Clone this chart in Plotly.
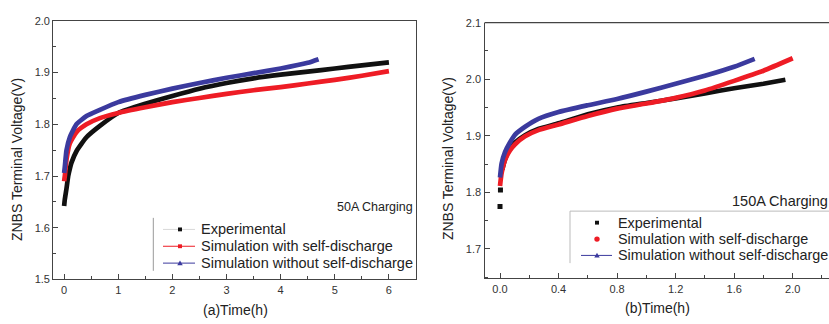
import plotly.graph_objects as go

W, H = 829, 324
FONT = "Arial, Liberation Sans, sans-serif"

# ---- 50 A charging ----
t_50_exp = [0.0, 0.013, 0.044, 0.075, 0.105, 0.136, 0.228, 0.413, 0.66, 1.0, 1.5, 2.0, 2.5, 3.0, 3.5, 4.0, 4.5, 5.0, 5.5, 6.0]
v_50_exp = [1.642, 1.655, 1.676, 1.700, 1.714, 1.726, 1.748, 1.775, 1.797, 1.822, 1.840, 1.855, 1.869, 1.880, 1.889, 1.896, 1.902, 1.908, 1.914, 1.920]

t_50_sd = [0.0, 0.013, 0.044, 0.105, 0.228, 0.413, 0.66, 1.0, 1.5, 2.0, 2.5, 3.0, 3.5, 4.0, 4.5, 5.0, 5.5, 6.0]
v_50_sd = [1.690, 1.700, 1.732, 1.763, 1.785, 1.800, 1.812, 1.822, 1.833, 1.843, 1.851, 1.859, 1.866, 1.872, 1.879, 1.886, 1.894, 1.903]

t_50_nosd = [0.0, 0.013, 0.044, 0.105, 0.228, 0.413, 0.66, 1.0, 1.5, 2.0, 2.5, 3.0, 3.5, 4.0, 4.5, 4.7]
v_50_nosd = [1.706, 1.718, 1.750, 1.775, 1.800, 1.816, 1.828, 1.843, 1.857, 1.869, 1.880, 1.890, 1.899, 1.908, 1.919, 1.926]

# ---- 150 A charging ----
t_150_exp_first = [0.0, 0.003]
v_150_exp_first = [1.775, 1.804]
t_150_exp = [0.015, 0.034, 0.068, 0.103, 0.171, 0.262, 0.4, 0.6, 0.8, 1.0, 1.2, 1.4, 1.6, 1.8, 1.95]
v_150_exp = [1.840, 1.858, 1.878, 1.888, 1.901, 1.912, 1.922, 1.938, 1.950, 1.958, 1.966, 1.975, 1.984, 1.992, 1.999]

t_150_sd = [0.0, 0.011, 0.034, 0.068, 0.103, 0.171, 0.262, 0.4, 0.6, 0.8, 1.0, 1.2, 1.4, 1.6, 1.8, 2.0]
v_150_sd = [1.811, 1.834, 1.857, 1.874, 1.885, 1.899, 1.910, 1.920, 1.935, 1.948, 1.957, 1.967, 1.980, 1.997, 2.015, 2.037]

t_150_nosd = [0.0, 0.011, 0.034, 0.068, 0.103, 0.171, 0.262, 0.4, 0.6, 0.8, 1.0, 1.2, 1.4, 1.6, 1.74]
v_150_nosd = [1.826, 1.851, 1.871, 1.888, 1.902, 1.916, 1.930, 1.942, 1.954, 1.965, 1.978, 1.992, 2.006, 2.022, 2.036]

names = ["Experimental", "Simulation with self-discharge", "Simulation without self-discharge"]
colors = ["#111111", "#ee1c25", "#3b3a9e"]

x_ticks_a = [0, 1, 2, 3, 4, 5, 6]
y_ticks_a = [1.5, 1.6, 1.7, 1.8, 1.9, 2.0]
x_ticks_b = [0.0, 0.4, 0.8, 1.2, 1.6, 2.0]
y_ticks_b = [1.7, 1.8, 1.9, 2.0, 2.1]


def px(x):
    return x / W


def py(y):
    return 1 - y / H


fig = go.Figure()

series_a = [(t_50_exp, v_50_exp), (t_50_sd, v_50_sd), (t_50_nosd, v_50_nosd)]
series_b = [(t_150_exp, v_150_exp), (t_150_sd, v_150_sd), (t_150_nosd, v_150_nosd)]

line_style = dict(width=4.7, shape="spline", smoothing=0.5)
for (t, v), c in zip(series_a, colors):
    fig.add_trace(go.Scatter(x=t, y=v, mode="lines", line=dict(color=c, **line_style),
                             xaxis="x", yaxis="y", showlegend=False))
fig.add_trace(go.Scatter(x=t_150_exp_first, y=v_150_exp_first, mode="markers",
                         marker=dict(symbol="square", size=5, color=colors[0]),
                         xaxis="x2", yaxis="y2", showlegend=False))
for (t, v), c in zip(series_b, colors):
    fig.add_trace(go.Scatter(x=t, y=v, mode="lines", line=dict(color=c, **line_style),
                             xaxis="x2", yaxis="y2", showlegend=False))

axis_common = dict(showline=True, linecolor="#444444", linewidth=1.3, ticks="inside", ticklen=5,
                   tickcolor="#444444", tickwidth=1, showgrid=False, zeroline=False,
                   tickfont=dict(family=FONT, size=11, color="#333333"))

fig.update_layout(
    width=W, height=H, margin=dict(l=0, r=0, t=0, b=0),
    paper_bgcolor="white", plot_bgcolor="white", showlegend=False,
    font=dict(family=FONT, color="#222222"),
    xaxis=dict(domain=[px(53.3), px(416)], range=[-0.2, 6.5], tickvals=x_ticks_a,
               ticktext=[str(v) for v in x_ticks_a], mirror=True,
               minor=dict(ticks="inside", ticklen=3, dtick=0.5, tick0=0, tickcolor="#444444"),
               anchor="y", **axis_common),
    yaxis=dict(domain=[py(284), py(15.5)], range=[1.5, 2.0], tickvals=y_ticks_a,
               ticktext=[f"{v:.1f}" for v in y_ticks_a], mirror=True,
               minor=dict(ticks="inside", ticklen=3, dtick=0.05, tick0=1.5, tickcolor="#444444"),
               anchor="x", **axis_common),
    xaxis2=dict(domain=[px(484.5), 1.0], range=[-0.106, 2.248], tickvals=x_ticks_b,
                ticktext=[f"{v:.1f}" for v in x_ticks_b],
                minor=dict(ticks="inside", ticklen=3, dtick=0.2, tick0=0, tickcolor="#444444"),
                anchor="y2", **axis_common),
    yaxis2=dict(domain=[py(282.7), py(17.3)], range=[1.648, 2.1], tickvals=y_ticks_b,
                ticktext=[f"{v:.1f}" for v in y_ticks_b],
                minor=dict(ticks="inside", ticklen=3, dtick=0.05, tick0=1.7, tickcolor="#444444"),
                anchor="x2", **axis_common),
)

# top frame line of panel (b)
fig.add_shape(type="line", xref="x2 domain", yref="y2 domain", x0=0, x1=1, y0=1, y1=1,
              line=dict(color="#444444", width=1.3))


def pline(x0, y0, x1, y1, color, width=1):
    fig.add_shape(type="line", xref="paper", yref="paper", x0=px(x0), y0=py(y0), x1=px(x1), y1=py(y1),
                  line=dict(color=color, width=width))


def square(cx, cy, s, color):
    fig.add_shape(type="rect", xref="paper", yref="paper", x0=px(cx - s / 2), x1=px(cx + s / 2),
                  y0=py(cy + s / 2), y1=py(cy - s / 2), fillcolor=color, line=dict(width=0))


def circle(cx, cy, r, color):
    fig.add_shape(type="circle", xref="paper", yref="paper", x0=px(cx - r), x1=px(cx + r),
                  y0=py(cy + r), y1=py(cy - r), fillcolor=color, line=dict(width=0))


def triangle(cx, cy, s, color):
    path = (f"M {px(cx - s / 2)} {py(cy + s / 2.4)} L {px(cx + s / 2)} {py(cy + s / 2.4)} "
            f"L {px(cx)} {py(cy - s / 2)} Z")
    fig.add_shape(type="path", xref="paper", yref="paper", path=path, fillcolor=color, line=dict(width=0))


def label(text, x, y, size, anchor="left", angle=0, color="#222222"):
    fig.add_annotation(text=text, x=px(x), y=py(y), xref="paper", yref="paper",
                       xanchor=anchor, yanchor="middle", textangle=angle, showarrow=False,
                       font=dict(family=FONT, size=size, color=color))


# legend, panel (a)
pline(153.3, 220, 153.3, 275, "#999999")
rows_a = [232, 249.5, 267]
pline(163, rows_a[0], 195, rows_a[0], "#d8d8d8")
square(180, rows_a[0], 4, colors[0])
pline(163, rows_a[1], 195, rows_a[1], colors[1])
square(180, rows_a[1], 4, colors[1])
pline(163, rows_a[2], 195, rows_a[2], colors[2])
triangle(180, rows_a[2], 5.5, colors[2])
for n, y in zip(names, rows_a):
    label(n, 199, y, 14.5)

# legend, panel (b)
pline(570, 213, 570, 267, "#bbbbbb")
pline(570, 213, 829, 213, "#bbbbbb")
rows_b = [225, 242, 259]
square(597, rows_b[0], 4, colors[0])
circle(597, rows_b[1], 2.7, colors[1])
pline(581, rows_b[2], 612, rows_b[2], colors[2])
triangle(597, rows_b[2], 5.5, colors[2])
for n, y in zip(names, rows_b):
    label(n, 616, y, 14.4)

# axis titles and panel notes
label("ZNBS Terminal Voltage(V)", 17, 160, 14, anchor="center", angle=-90)
label("ZNBS Terminal Voltage(V)", 448, 159, 14, anchor="center", angle=-90)
label("(a)Time(h)", 235, 316, 14, anchor="center")
label("(b)Time(h)", 657, 314, 14, anchor="center")
label("50A Charging", 375, 209, 12.5, anchor="center")
label("150A Charging", 780, 202, 14.5, anchor="center")

fig.write_html("out.html")
